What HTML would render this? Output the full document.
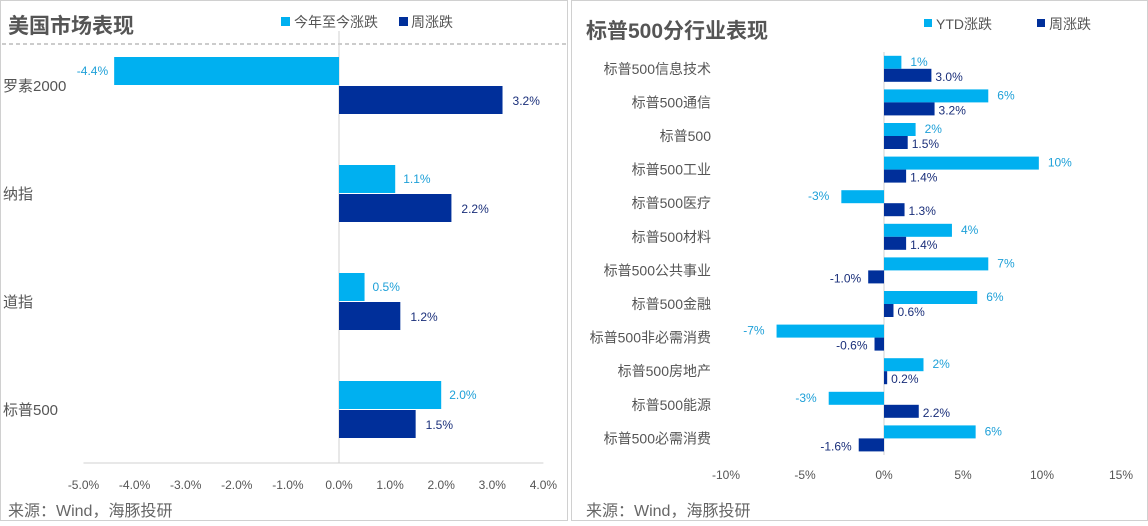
<!DOCTYPE html>
<html><head><meta charset="utf-8"><style>
body{margin:0;background:#fff;width:1148px;height:521px;overflow:hidden;font-family:"Liberation Sans","Noto Sans CJK SC",sans-serif;}
svg text{font-family:"Liberation Sans","Noto Sans CJK SC",sans-serif;}
</style></head><body>
<svg id="c" width="1148" height="521">
<rect x="0.5" y="0.5" width="567" height="520" fill="#fff" stroke="#d0d0d0"/>
<rect x="571.5" y="0.5" width="576" height="520" fill="#fff" stroke="#d0d0d0"/>
<text x="8" y="33" font-size="21" font-weight="bold" fill="#555">美国市场表现</text>
<line x1="2" y1="44" x2="566" y2="44" stroke="#999" stroke-dasharray="4,3"/>
<rect x="281" y="17" width="9" height="9" fill="#00b0f0"/>
<text x="294" y="27" font-size="14" fill="#555">今年至今涨跌</text>
<rect x="399" y="17" width="9" height="9" fill="#002f9a"/>
<text x="411" y="27" font-size="14" fill="#555">周涨跌</text>
<text x="586" y="38" font-size="21" font-weight="bold" fill="#555">标普500分行业表现</text>
<rect x="924" y="19" width="8" height="8" fill="#00b0f0"/>
<text x="936" y="29" font-size="14" fill="#555">YTD涨跌</text>
<rect x="1037" y="19" width="8" height="8" fill="#002f9a"/>
<text x="1049" y="29" font-size="14" fill="#555">周涨跌</text>
<text x="8" y="516" font-size="16" fill="#666">来源：Wind，海豚投研</text>
<text x="586" y="516" font-size="16" fill="#666">来源：Wind，海豚投研</text>
<g id="L"></g><g id="R"></g>
</svg>
<script>
const leftCats=["罗素2000","纳指","道指","标普500"];
const leftYtd=[-4.4,1.1,0.5,2.0];
const leftWeek=[3.2,2.2,1.2,1.5];
const leftTicks=[-5,-4,-3,-2,-1,0,1,2,3,4];
const rightCats=["标普500信息技术","标普500通信","标普500","标普500工业","标普500医疗","标普500材料","标普500公共事业","标普500金融","标普500非必需消费","标普500房地产","标普500能源","标普500必需消费"];
const rightYtd=[1.1,6.6,2.0,9.8,-2.7,4.3,6.6,5.9,-6.8,2.5,-3.5,5.8];
const rightYtdLabels=["1%","6%","2%","10%","-3%","4%","7%","6%","-7%","2%","-3%","6%"];
const rightWeek=[3.0,3.2,1.5,1.4,1.3,1.4,-1.0,0.6,-0.6,0.2,2.2,-1.6];
const rightTicks=[-10,-5,0,5,10,15];
const NS="http://www.w3.org/2000/svg";
function mk(p,t,a,txt){const e=document.createElementNS(NS,t);for(const k in a)e.setAttribute(k,a[k]);if(txt!=null)e.textContent=txt;p.appendChild(e);return e;}
const C1="#00b0f0",C2="#002f9a";
const L=document.getElementById('L');
const lx=v=>339+v*51.1, lTop=31, lBand=108;
let e=mk(L,'line',{x1:lx(0),y1:lTop,x2:lx(0),y2:463,stroke:'#d0d0d0'});

e=mk(L,'line',{x1:lx(-5),y1:463,x2:lx(4),y2:463,stroke:'#d0d0d0'});

leftTicks.forEach(t=>{e=mk(L,'text',{x:lx(t),y:489,'font-size':12,fill:'#555','text-anchor':'middle'},t.toFixed(1)+'%');
});
leftCats.forEach((c,i)=>{const cy=lTop+lBand*(i+0.5);
e=mk(L,'text',{x:3,y:cy+6,'font-size':15,fill:'#555'},c);

const v=leftYtd[i],w=leftWeek[i];
e=mk(L,'rect',{x:Math.min(lx(0),lx(v)),y:cy-28,width:Math.abs(lx(v)-lx(0)),height:28,fill:C1});

e=mk(L,'text',{x:v<0?lx(v)-6:lx(v)+8,y:cy-10,'font-size':12,fill:'#1ea0d8','text-anchor':v<0?'end':'start'},v.toFixed(1)+'%');

e=mk(L,'rect',{x:Math.min(lx(0),lx(w)),y:cy+1,width:Math.abs(lx(w)-lx(0)),height:28,fill:C2});

e=mk(L,'text',{x:w<0?lx(w)-6:lx(w)+10,y:cy+20,'font-size':12,fill:'#1a2f7a','text-anchor':w<0?'end':'start'},w.toFixed(1)+'%');
});
const R=document.getElementById('R');
const rx=v=>884+v*15.8, rTop=52, rBand=33.6;
e=mk(R,'line',{x1:rx(0),y1:rTop,x2:rx(0),y2:455,stroke:'#d0d0d0'});

rightTicks.forEach(t=>{e=mk(R,'text',{x:rx(t),y:479,'font-size':12,fill:'#555','text-anchor':'middle'},t+'%');
});
rightCats.forEach((c,i)=>{const cy=rTop+rBand*(i+0.5);
e=mk(R,'text',{x:711,y:cy+5,'font-size':14,fill:'#555','text-anchor':'end'},c);

const v=rightYtd[i],w=rightWeek[i];
e=mk(R,'rect',{x:Math.min(rx(0),rx(v)),y:cy-13,width:Math.abs(rx(v)-rx(0)),height:13,fill:C1});

e=mk(R,'text',{x:v<0?rx(v)-12:rx(v)+9,y:cy-3,'font-size':12,fill:'#1ea0d8','text-anchor':v<0?'end':'start'},rightYtdLabels[i]);

e=mk(R,'rect',{x:Math.min(rx(0),rx(w)),y:cy,width:Math.max(1.5,Math.abs(rx(w)-rx(0))),height:13,fill:C2});

e=mk(R,'text',{x:w<0?rx(w)-7:rx(w)+4,y:cy+12,'font-size':12,fill:'#1a2f7a','text-anchor':w<0?'end':'start'},w.toFixed(1)+'%');
});
</script>
</body></html>
